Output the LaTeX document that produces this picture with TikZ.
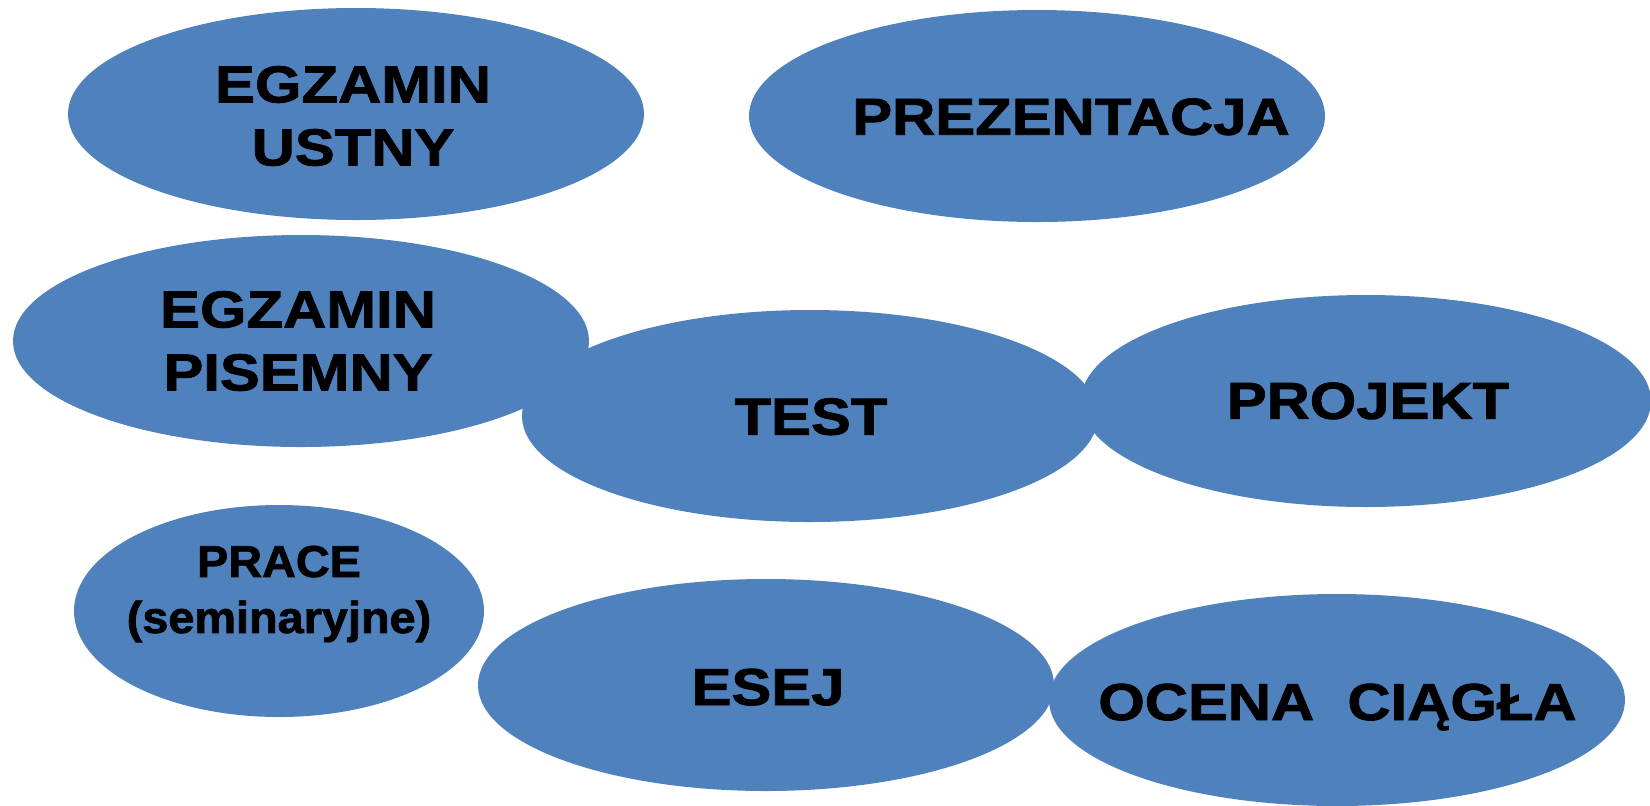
\documentclass[tikz,border=0pt]{standalone}
\usepackage{fontspec}
\newfontfamily\lblfont{Liberation Sans}[FakeStretch=1.15,FakeBold=1.6]
\newfontfamily\lblnarrowfont{Liberation Sans}[FakeStretch=1.05,FakeBold=1.6]
\usetikzlibrary{shapes.geometric}
\definecolor{bubble}{HTML}{4F81BD}
\begin{document}
\begin{tikzpicture}[x=0.5pt,y=-0.5pt,
  bubble/.style={ellipse,fill=bubble,draw=none,inner sep=0pt},
  lbl/.style={font=\lblfont\bfseries\fontsize{26}{31.5}\selectfont,align=center,inner sep=0pt,text=black},
  lblsmall/.style={font=\lblnarrowfont\bfseries\fontsize{22.3}{28}\selectfont,align=center,inner sep=0pt,text=black}]
\useasboundingbox (0,0) rectangle (1650,805);
% bubbles
\node[bubble,minimum width=288pt,minimum height=106pt] (ustny) at (356,114) {};
\node[bubble,minimum width=288pt,minimum height=106pt] (prez) at (1037,116) {};
\node[bubble,minimum width=288pt,minimum height=106pt] (pisemny) at (301,341) {};
\node[bubble,minimum width=288pt,minimum height=106pt] (test) at (810,416) {};
\node[bubble,minimum width=285pt,minimum height=106pt] (projekt) at (1366,401) {};
\node[bubble,minimum width=205pt,minimum height=106pt] (prace) at (279,611) {};
\node[bubble,minimum width=288pt,minimum height=106pt] (esej) at (766,685) {};
\node[bubble,minimum width=288pt,minimum height=106pt] (ocena) at (1337,700) {};
% labels
\node[lbl] (tustny) at (353,116) {EGZAMIN\\USTNY};
\node[lbl,anchor=base] (tprez) at (1071,134.7) {PREZENTACJA};
\node[lbl] (tpisemny) at (298,341) {EGZAMIN\\PISEMNY};
\node[lbl,anchor=base] (ttest) at (811,434.6) {TEST};
\node[lbl,anchor=base] (tprojekt) at (1368,418.8) {PROJEKT};
\node[lblsmall] (tprace) at (279,594) {PRACE\\(seminaryjne)};
\node[lbl,anchor=base] (tesej) at (768,705) {ESEJ};
\node[lbl,anchor=base] (tocena) at (1337.5,720) {OCENA\ \ CIĄGŁA};
\end{tikzpicture}
\end{document}
